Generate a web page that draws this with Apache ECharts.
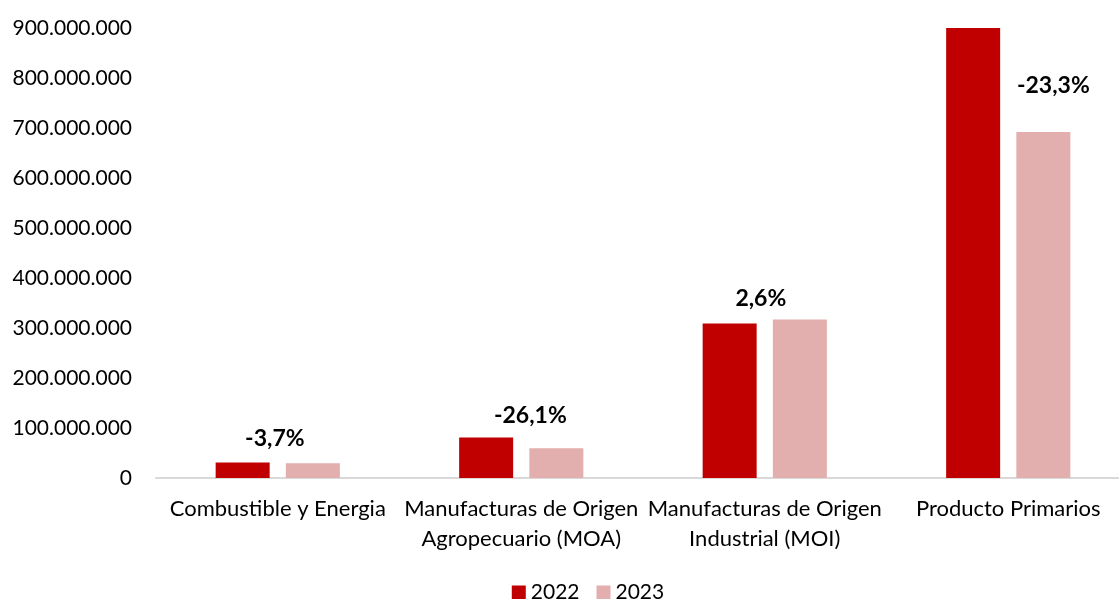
<!DOCTYPE html>
<html>
<head>
<meta charset="utf-8">
<script src="https://cdn.jsdelivr.net/npm/echarts@6/dist/echarts.min.js"></script>
<style>html,body{margin:0;padding:0;background:#fff;overflow:hidden;width:1119px;height:599px;}#c{width:1176px;height:599px;}</style>
</head>
<body>
<div id="c"></div>
<script>
const categories = ['Combustible y Energia', 'Manufacturas de Origen\nAgropecuario (MOA)', 'Manufacturas de Origen\nIndustrial (MOI)', 'Producto Primarios'];
const values2022 = [30800000, 80800000, 308800000, 902000000];
const values2023 = [29700000, 59700000, 316800000, 692000000];
const variation = ['-3,7%', '-26,1%', '2,6%', '-23,3%'];
const yTicks = [0, 100000000, 200000000, 300000000, 400000000, 500000000, 600000000, 700000000, 800000000, 900000000];

const FONT = 'Lato';
const labelOffsets = [[-38, -2], [-26, -10], [-39, 1], [10, -24]];

function fmt(v) {
  return String(v).replace(/\B(?=(\d{3})+(?!\d))/g, '.');
}

const chart = echarts.init(document.getElementById('c'), null, {renderer: 'canvas'});
chart.setOption({
  animation: false,
  textStyle: {fontFamily: FONT},
  grid: {left: 156, top: 28, right: 46, bottom: 121, containLabel: false},
  legend: {
    top: 582, left: 'center', padding: 0,
    itemWidth: 14, itemHeight: 14, itemGap: 17,
    icon: 'rect',
    textStyle: {fontFamily: FONT, fontSize: 21, color: '#000'},
    data: ['2022', '2023']
  },
  xAxis: {
    type: 'category',
    data: categories,
    axisLine: {lineStyle: {color: '#d9d9d9', width: 2}},
    axisTick: {show: false},
    axisLabel: {fontFamily: FONT, fontSize: 22, color: '#000', lineHeight: 30, margin: 16, interval: 0}
  },
  yAxis: {
    type: 'value',
    min: 0, max: 900000000, interval: 100000000,
    splitLine: {show: false},
    axisLine: {show: false},
    axisTick: {show: false},
    axisLabel: {fontFamily: FONT, fontSize: 21, color: '#000', margin: 24, formatter: v => fmt(v)}
  },
  series: [
    {
      name: '2022', type: 'bar', data: values2022,
      barWidth: 54, barGap: '30%',
      itemStyle: {color: '#C00000'}
    },
    {
      name: '2023', type: 'bar',
      data: values2023.map((v, i) => ({
        value: v,
        label: {show: true, position: 'top', offset: labelOffsets[i], formatter: variation[i]}
      })),
      barWidth: 54,
      itemStyle: {color: '#E3AEAE'},
      label: {fontFamily: FONT, fontSize: 23, fontWeight: 'bold', color: '#000', distance: 11}
    }
  ]
});
</script>
</body>
</html>
